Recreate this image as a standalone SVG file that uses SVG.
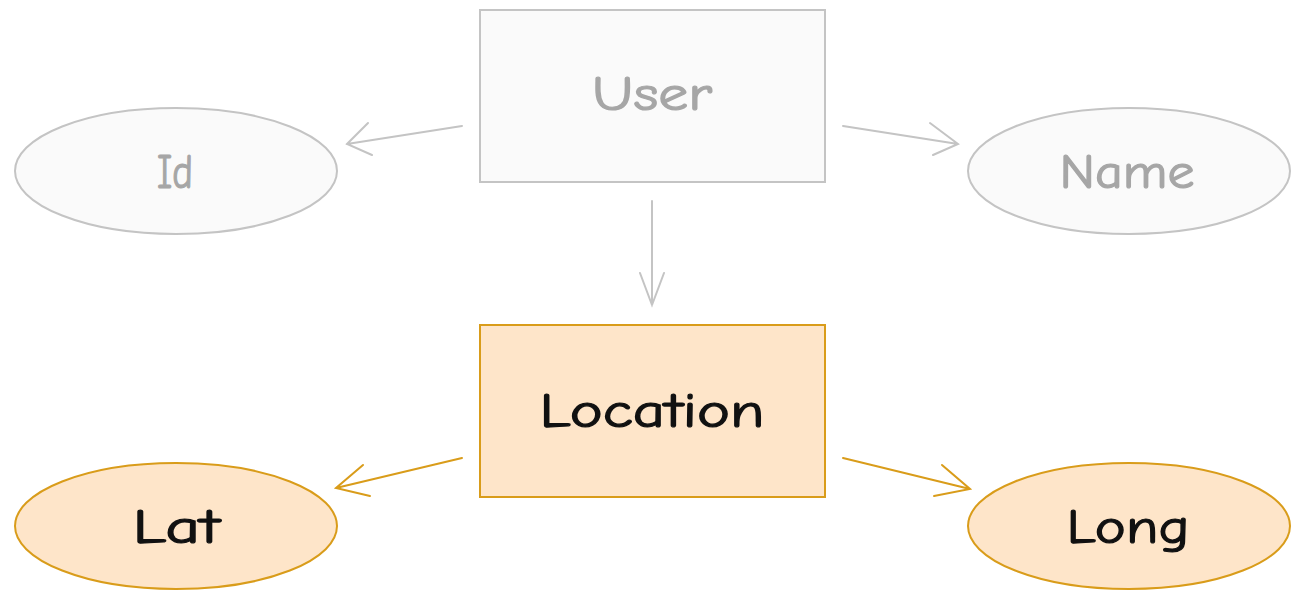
<svg xmlns="http://www.w3.org/2000/svg" width="1298" height="604" viewBox="0 0 1298 604">
<style>
.gshape{fill:#fafafa;stroke:#c4c4c4;stroke-width:2}
.oshape{fill:#fee5c9;stroke:#d99c1a;stroke-width:2}
.glink{fill:none;stroke:#c4c4c4;stroke-width:2;stroke-linecap:round}
.olink{fill:none;stroke:#d99c1a;stroke-width:2;stroke-linecap:round}
text{font-family:"Comic Neue","Liberation Sans",sans-serif;font-size:48px;text-anchor:middle;stroke-width:1.2}
.gt{fill:#a6a6a6;stroke:#a6a6a6}
.ot{fill:#111;stroke:#111}
</style>
<rect width="1298" height="604" fill="#ffffff"/>
<g id="connectors">
<path class="glink" d="M462 126 L347 144 M368 123 L347 144 L372 155"/>
<path class="glink" d="M843 126 L958 144 M930 123 L958 144 L933 155"/>
<path class="glink" d="M652 201 L652 305 M640 273 L652 305 L664 273"/>
<path class="olink" d="M462 458 L336 488 M363 465 L336 488 L370 496"/>
<path class="olink" d="M843 458 L970 489 M942 465 L970 489 L934 496"/>
</g>
<g id="user">
<rect class="gshape" x="480" y="10" width="345" height="172"/>
<text class="gt" x="652" y="110" textLength="120" lengthAdjust="spacingAndGlyphs">User</text>
</g>
<g id="id">
<ellipse class="gshape" cx="176" cy="171" rx="161" ry="63"/>
<text class="gt" x="175" y="188" textLength="36" lengthAdjust="spacingAndGlyphs">Id</text>
</g>
<g id="name">
<ellipse class="gshape" cx="1129" cy="171" rx="161" ry="63"/>
<text class="gt" x="1127" y="188" textLength="135" lengthAdjust="spacingAndGlyphs">Name</text>
</g>
<g id="location">
<rect class="oshape" x="480" y="325" width="345" height="172"/>
<text class="ot" x="652" y="427" textLength="225" lengthAdjust="spacingAndGlyphs">Location</text>
</g>
<g id="lat">
<ellipse class="oshape" cx="176" cy="526" rx="161" ry="63"/>
<text class="ot" x="176" y="543" textLength="87" lengthAdjust="spacingAndGlyphs">Lat</text>
</g>
<g id="long">
<ellipse class="oshape" cx="1129" cy="526" rx="161" ry="63"/>
<text class="ot" x="1128" y="543" textLength="123" lengthAdjust="spacingAndGlyphs">Long</text>
</g>
</svg>
